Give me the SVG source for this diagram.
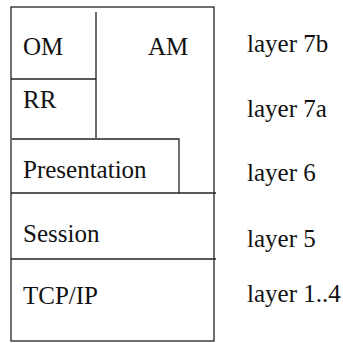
<svg xmlns="http://www.w3.org/2000/svg" width="343" height="343" viewBox="0 0 343 343">
<style>
.ln{stroke:#222;stroke-width:1.3;fill:none}
</style>
<rect width="343" height="343" fill="#fff"/>
<g id="connectors">
<rect class="ln" x="11" y="7" width="203" height="334"/>
<line class="ln" x1="96" y1="12" x2="96" y2="138"/>
<line class="ln" x1="11" y1="79" x2="96" y2="79"/>
<polyline class="ln" points="12,139 179,139 179,193"/>
<line class="ln" x1="11" y1="193" x2="216" y2="193"/>
<line class="ln" x1="11" y1="259" x2="216" y2="259"/>
</g>
<g id="om"><text x="23" y="55" font-family="Liberation Serif" font-size="25" fill="#111">OM</text></g>
<g id="am"><text x="148" y="55" font-family="Liberation Serif" font-size="25" fill="#111">AM</text></g>
<g id="rr"><text x="23" y="108" font-family="Liberation Serif" font-size="25" fill="#111">RR</text></g>
<g id="presentation"><text x="23" y="178" font-family="Liberation Serif" font-size="25" fill="#111">Presentation</text></g>
<g id="session"><text x="23" y="242" font-family="Liberation Serif" font-size="25" fill="#111">Session</text></g>
<g id="tcpip"><text x="23" y="304" font-family="Liberation Serif" font-size="25" fill="#111">TCP/IP</text></g>
<g id="labels" font-family="Liberation Serif" font-size="25" fill="#111">
<text x="247" y="52" font-family="Liberation Serif">layer 7b</text>
<text x="247" y="117" font-family="Liberation Serif">layer 7a</text>
<text x="247" y="181" font-family="Liberation Serif">layer 6</text>
<text x="247" y="247" font-family="Liberation Serif">layer 5</text>
<text x="247" y="302" font-family="Liberation Serif">layer 1..4</text>
</g>
</svg>
